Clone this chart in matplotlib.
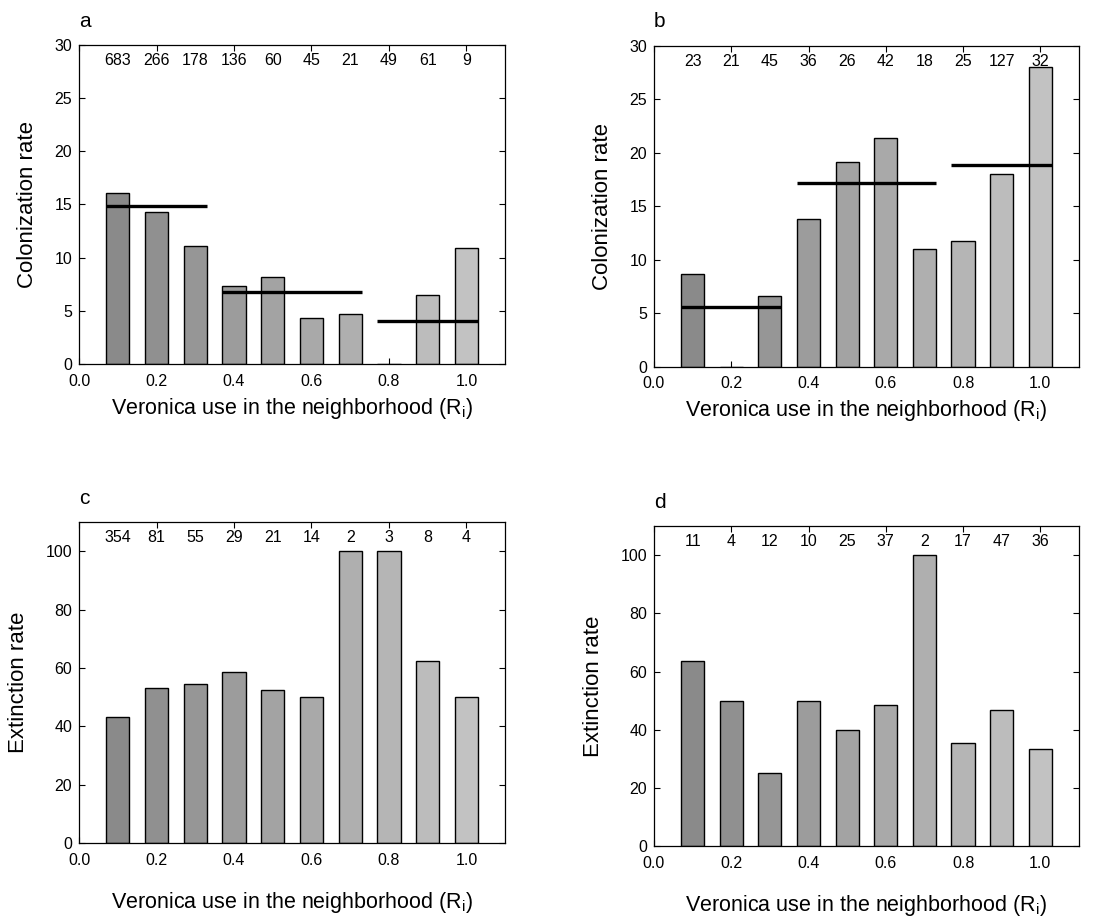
import numpy as np
import matplotlib
matplotlib.use("Agg")
import matplotlib.pyplot as plt

plt.rcParams['font.family'] = ['Liberation Sans', 'DejaVu Sans']

# Bin centres of Veronica use in the neighbourhood
bins = [0.1, 0.2, 0.3, 0.4, 0.5, 0.6, 0.7, 0.8, 0.9, 1.0]

# a: colonization, panel a
col_a = [16.1, 14.3, 11.1, 7.3, 8.2, 4.3, 4.7, 0.0, 6.5, 10.9]
n_a = ['683', '266', '178', '136', '60', '45', '21', '49', '61', '9']
mean_a = [14.9, 6.8, 4.0]

# b: colonization, panel b
col_b = [8.7, 0.0, 6.6, 13.8, 19.1, 21.4, 11.0, 11.8, 18.0, 28.0]
n_b = ['23', '21', '45', '36', '26', '42', '18', '25', '127', '32']
mean_b = [5.6, 17.2, 18.9]

# c: extinction, panel c
ext_c = [43.2, 53.1, 54.5, 58.6, 52.4, 50.0, 100.0, 100.0, 62.5, 50.0]
n_c = ['354', '81', '55', '29', '21', '14', '2', '3', '8', '4']

# d: extinction, panel d
ext_d = [63.6, 50.0, 25.0, 50.0, 40.0, 48.6, 100.0, 35.3, 46.8, 33.3]
n_d = ['11', '4', '12', '10', '25', '37', '2', '17', '47', '36']

# groups for the horizontal mean lines (start, end of each group)
groups = [(0.07, 0.33), (0.37, 0.73), (0.77, 1.03)]

xlabel = 'Veronica use in the neighborhood (R$_\\mathregular{i}$)'

fig = plt.figure(figsize=(11.01, 9.19), dpi=100)
ax_a = fig.add_axes([0.0718, 0.604, 0.387, 0.347])
ax_b = fig.add_axes([0.594, 0.601, 0.386, 0.349])
ax_c = fig.add_axes([0.0718, 0.0827, 0.387, 0.349])
ax_d = fig.add_axes([0.594, 0.0794, 0.386, 0.348])

shades = [str(g) for g in np.linspace(0.54, 0.76, len(bins))]


def panel(ax, vals, counts, ymax, yticks, ylabel, letter, xpad, means=None):
    ax.bar(bins, vals, width=0.06, color=shades, edgecolor='black',
           linewidth=1.0, zorder=2)
    if means is not None:
        for (x0, x1), m in zip(groups, means):
            ax.plot([x0, x1], [m, m], color='black', lw=2.4, zorder=3,
                    solid_capstyle='butt')
    for x, t in zip(bins, counts):
        ax.text(x, 0.953, t, transform=ax.get_xaxis_transform(),
                ha='center', va='center', fontsize=11.5)
    ax.set_xlim(0, 1.1)
    ax.set_ylim(0, ymax)
    ax.set_xticks([0.0, 0.2, 0.4, 0.6, 0.8, 1.0])
    ax.set_xticklabels(['0.0', '0.2', '0.4', '0.6', '0.8', '1.0'])
    ax.set_yticks(yticks)
    ax.tick_params(direction='in', top=True, right=True, length=4,
                   width=0.8, labelsize=11.5)
    ax.tick_params(axis='x', pad=7)
    ax.tick_params(axis='y', pad=5)
    for s in ax.spines.values():
        s.set_linewidth(0.9)
    ax.set_ylabel(ylabel, fontsize=16, labelpad=12)
    ax.set_xlabel(xlabel, fontsize=15.5, labelpad=xpad)
    ax.text(0.0, 1.075, letter, transform=ax.transAxes, fontsize=15,
            ha='left', va='center')


panel(ax_a, col_a, n_a, 30, [0, 5, 10, 15, 20, 25, 30], 'Colonization rate',
      'a', 5, mean_a)
panel(ax_b, col_b, n_b, 30, [0, 5, 10, 15, 20, 25, 30], 'Colonization rate',
      'b', 5, mean_b)
panel(ax_c, ext_c, n_c, 110, [0, 20, 40, 60, 80, 100], 'Extinction rate',
      'c', 16)
panel(ax_d, ext_d, n_d, 110, [0, 20, 40, 60, 80, 100], 'Extinction rate',
      'd', 16)

fig.savefig('out.png', dpi=100)
